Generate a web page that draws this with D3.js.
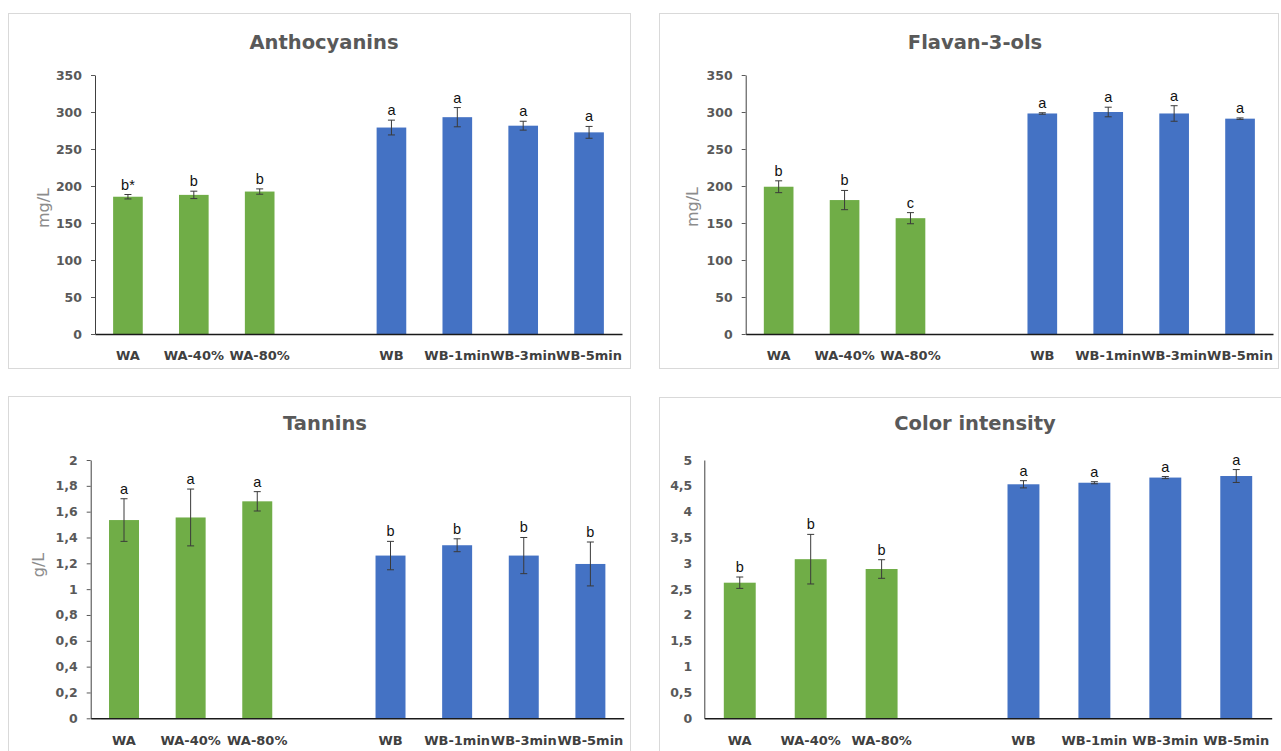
<!DOCTYPE html>
<html>
<head>
<meta charset="utf-8">
<script src="https://cdn.jsdelivr.net/npm/d3@7"></script>
<style>
  html, body { margin: 0; padding: 0; background: #fff; }
  svg { display: block; }
</style>
</head>
<body>
<svg id="chart" width="1281" height="751"></svg>
<script>
// ---------- DATA ----------
const categories = ["WA", "WA-40%", "WA-80%", "WB", "WB-1min", "WB-3min", "WB-5min"];
const groups = ["A", "A", "A", "B", "B", "B", "B"];

const anthoValues  = [185.5, 188, 192.5, 279, 293, 281.5, 272.5];
const anthoErrors  = [3, 5, 3.6, 10, 13, 6, 8];
const anthoLetters = ["b*", "b", "b", "a", "a", "a", "a"];
const anthoTicks   = [0, 50, 100, 150, 200, 250, 300, 350];

const flavanValues  = [199, 181, 156.5, 298, 300, 298, 291];
const flavanErrors  = [8, 13, 7.5, 1, 6.5, 10.5, 1];
const flavanLetters = ["b", "b", "c", "a", "a", "a", "a"];
const flavanTicks   = [0, 50, 100, 150, 200, 250, 300, 350];

const tanninValues  = [1.535, 1.555, 1.68, 1.26, 1.34, 1.26, 1.195];
const tanninErrors  = [0.165, 0.22, 0.075, 0.11, 0.05, 0.14, 0.17];
const tanninLetters = ["a", "a", "a", "b", "b", "b", "b"];
const tanninTicks   = [0, 0.2, 0.4, 0.6, 0.8, 1, 1.2, 1.4, 1.6, 1.8, 2];

const colorValues  = [2.625, 3.08, 2.89, 4.53, 4.56, 4.66, 4.69];
const colorErrors  = [0.11, 0.48, 0.18, 0.07, 0.02, 0.02, 0.125];
const colorLetters = ["b", "b", "b", "a", "a", "a", "a"];
const colorTicks   = [0, 0.5, 1, 1.5, 2, 2.5, 3, 3.5, 4, 4.5, 5];

// ---------- LAYOUT ----------
const groupColor = { A: "#70ad47", B: "#4472c4" };
const SPACER = "__gap__";
const slots = categories.slice(0, 3).concat([SPACER], categories.slice(3));

const panels = [
  { title: "Anthocyanins", unit: "mg/L", values: anthoValues, errors: anthoErrors, letters: anthoLetters, ticks: anthoTicks,
    box: [8, 13, 622, 355], x: [95, 622], y: [334, 75], titlePos: [324, 49], unitPos: [43, 208], tickSize: 4 },
  { title: "Flavan-3-ols", unit: "mg/L", values: flavanValues, errors: flavanErrors, letters: flavanLetters, ticks: flavanTicks,
    box: [659, 13, 619, 355], x: [745.7, 1273], y: [334, 75], titlePos: [975, 49], unitPos: [692, 207], tickSize: 4 },
  { title: "Tannins", unit: "g/L", values: tanninValues, errors: tanninErrors, letters: tanninLetters, ticks: tanninTicks,
    box: [8, 396, 622, 370], x: [90.7, 623.7], y: [718.3, 460], titlePos: [325, 430], unitPos: [38, 565], tickSize: 4 },
  { title: "Color intensity", unit: null, values: colorValues, errors: colorErrors, letters: colorLetters, ticks: colorTicks,
    box: [659, 397, 630, 370], x: [704.3, 1271.7], y: [718.3, 460], titlePos: [975, 430], unitPos: null, tickSize: 0 }
];

const svg = d3.select("#chart");
svg.append("rect").attr("width", 1281).attr("height", 751).attr("fill", "#fff");

const fmt = v => String(v).replace(".", ",");

panels.forEach(p => {
  const g = svg.append("g");

  g.append("rect")
    .attr("x", p.box[0] + 0.5).attr("y", p.box[1] + 0.5)
    .attr("width", p.box[2]).attr("height", p.box[3])
    .attr("fill", "#fff").attr("stroke", "#d9d9d9").attr("stroke-width", 1);

  g.append("text")
    .attr("x", p.titlePos[0]).attr("y", p.titlePos[1])
    .attr("text-anchor", "middle")
    .attr("font-family", "DejaVu Sans, sans-serif")
    .attr("font-weight", "bold").attr("font-size", 19.5)
    .attr("fill", "#595959")
    .text(p.title);

  const x = d3.scaleBand().domain(slots).range(p.x).paddingInner(0.55).paddingOuter(0.275);
  const ymax = p.ticks[p.ticks.length - 1];
  const y = d3.scaleLinear().domain([0, ymax]).range(p.y);

  // y axis
  const yAxis = g.append("g")
    .attr("transform", `translate(${p.x[0]},0)`)
    .call(d3.axisLeft(y).tickValues(p.ticks).tickFormat(fmt).tickSize(p.tickSize).tickSizeOuter(0).tickPadding(p.tickSize ? 9 : 12));
  yAxis.select(".domain").attr("stroke", "#404040").attr("stroke-width", 1);
  yAxis.selectAll(".tick line").attr("stroke", "#595959");
  yAxis.selectAll(".tick text")
    .attr("font-family", "DejaVu Sans, sans-serif").attr("font-weight", "bold")
    .attr("font-size", 12.5).attr("fill", "#595959");

  if (p.unit) {
    g.append("text")
      .attr("transform", `translate(${p.unitPos[0]},${p.unitPos[1]}) rotate(-90)`)
      .attr("text-anchor", "middle").attr("dy", "0.35em")
      .attr("font-family", "DejaVu Sans, sans-serif")
      .attr("font-size", 16).attr("fill", "#8c8c8c")
      .text(p.unit);
  }

  const data = categories.map((c, i) => ({ cat: c, v: p.values[i], e: p.errors[i], l: p.letters[i], grp: groups[i] }));

  // bars
  g.selectAll("rect.bar").data(data).enter().append("rect")
    .attr("class", "bar")
    .attr("x", d => x(d.cat)).attr("width", x.bandwidth())
    .attr("y", d => y(d.v)).attr("height", d => y(0) - y(d.v))
    .attr("fill", d => groupColor[d.grp]);

  // error bars
  const eb = g.selectAll("g.err").data(data).enter().append("g").attr("class", "err")
    .attr("stroke", "#3a3a3a").attr("stroke-width", 1);
  eb.append("line")
    .attr("x1", d => x(d.cat) + x.bandwidth() / 2).attr("x2", d => x(d.cat) + x.bandwidth() / 2)
    .attr("y1", d => y(d.v + d.e)).attr("y2", d => y(d.v - d.e));
  eb.append("line")
    .attr("x1", d => x(d.cat) + x.bandwidth() / 2 - 3.5).attr("x2", d => x(d.cat) + x.bandwidth() / 2 + 3.5)
    .attr("y1", d => y(d.v + d.e)).attr("y2", d => y(d.v + d.e));
  eb.append("line")
    .attr("x1", d => x(d.cat) + x.bandwidth() / 2 - 3.5).attr("x2", d => x(d.cat) + x.bandwidth() / 2 + 3.5)
    .attr("y1", d => y(d.v - d.e)).attr("y2", d => y(d.v - d.e));

  // significance letters
  g.selectAll("text.sig").data(data).enter().append("text")
    .attr("class", "sig")
    .attr("x", d => x(d.cat) + x.bandwidth() / 2)
    .attr("y", d => y(d.v + d.e) - 5)
    .attr("text-anchor", "middle")
    .attr("font-family", "Liberation Sans, Arial, sans-serif")
    .attr("font-size", 14.5).attr("fill", "#111")
    .text(d => d.l);

  // x axis
  const xAxis = g.append("g")
    .attr("transform", `translate(0,${p.y[0]})`)
    .call(d3.axisBottom(x).tickSize(0).tickSizeOuter(0).tickPadding(17)
      .tickFormat(d => d === SPACER ? "" : d));
  xAxis.select(".domain").attr("stroke", "#1a1a1a").attr("stroke-width", 1.5);
  xAxis.selectAll(".tick text")
    .attr("font-family", "DejaVu Sans, sans-serif").attr("font-weight", "bold")
    .attr("font-size", 13).attr("fill", "#404040");
});
</script>
</body>
</html>
